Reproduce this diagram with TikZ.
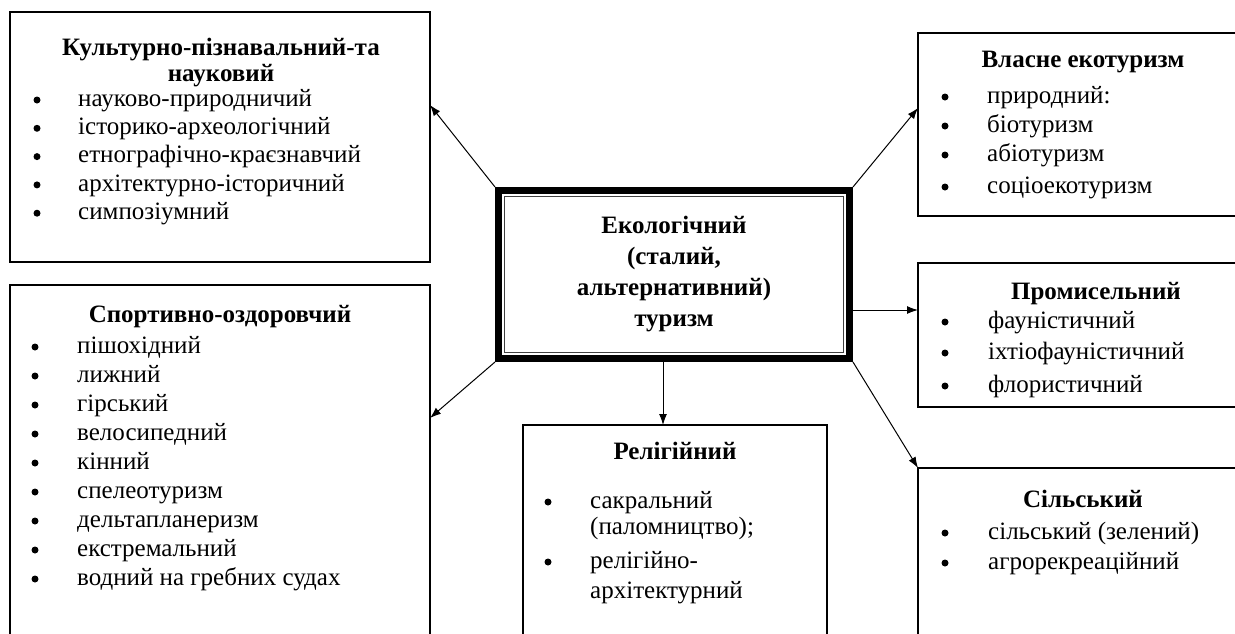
\documentclass[tikz,border=0pt]{standalone}
\usepackage{fontspec}
\setmainfont{Liberation Serif}
\usetikzlibrary{arrows.meta,calc}
\begin{document}
\begin{tikzpicture}[x=1pt,y=-1pt,
  box/.style={draw,line width=1.2pt,anchor=north west,inner sep=0pt,outer sep=0pt},
  ttl/.style={font=\fontsize{25}{29}\selectfont\bfseries,anchor=mid,inner sep=0pt,yshift=-5pt},
  itm/.style={font=\fontsize{25}{29}\selectfont,anchor=mid west,inner sep=0pt,yshift=-4pt},
  bul/.style={circle,fill,draw=none,minimum size=7pt,inner sep=0pt},
  arr/.style={line width=1pt,-{Latex[length=11pt,width=8pt]}}]
\useasboundingbox (0,0) rectangle (1235,633);
\clip (0,0) rectangle (1235,633);
% boxes
\node[box,minimum width=420,minimum height=250] (b1) at (10,12) {};
\node[box,minimum width=420,minimum height=380] (b2) at (10,285) {};
\node[box,minimum width=304,minimum height=240] (r) at (523,425) {};
\node[box,minimum width=345,minimum height=183] (v) at (918,33) {};
\node[box,minimum width=345,minimum height=144] (p) at (918,263) {};
\node[box,minimum width=345,minimum height=200] (s) at (918,468) {};
% centre
\node[draw,line width=7pt,minimum width=351,minimum height=168,inner sep=0pt,
      font=\fontsize{25}{31}\selectfont\bfseries,align=center] (c) at (674,274.5)
      {Екологічний\\(сталий,\\альтернативний)\\туризм};
\draw[line width=1.5pt,black!75] ([shift={(9.5,9.5)}]c.north west) rectangle ([shift={(-9.5,-9.5)}]c.south east);
% box 1
\node[ttl] (b1t1) at (221,48) {Культурно-пізнавальний-та};
\node[ttl] (b1t2) at (221,74) {науковий};
\foreach \t [count=\i] in {науково-природничий,історико-археологічний,етнографічно-краєзнавчий,архітектурно-історичний,симпозіумний}{
  \node[bul] (b1b\i) at (37,{100+28.3*(\i-1)}) {};
  \node[itm] (b1i\i) at (78,{100+28.3*(\i-1)}) {\t};
}
% box 2
\node[ttl] (b2t) at (220,315) {Спортивно-оздоровчий};
\foreach \t [count=\i] in {пішохідний,лижний,гірський,велосипедний,кінний,спелеотуризм,дельтапланеризм,екстремальний,водний на гребних судах}{
  \node[bul] (b2b\i) at (35,{347+29*(\i-1)}) {};
  \node[itm] (b2i\i) at (77,{347+29*(\i-1)}) {\t};
}
% Власне
\node[ttl] (vt) at (1083,60) {Власне екотуризм};
\foreach \t/\y [count=\i] in {природний:/97,біотуризм/126,абіотуризм/155,соціоекотуризм/187}{
  \node[bul] (vb\i) at (945,\y) {};
  \node[itm] (vi\i) at (987,\y) {\t};
}
% Промисельний
\node[ttl] (pt) at (1096,292) {Промисельний};
\foreach \t/\y [count=\i] in {фауністичний/322,іхтіофауністичний/353,флористичний/386}{
  \node[bul] (pb\i) at (945,\y) {};
  \node[itm] (pi\i) at (988,\y) {\t};
}
% Сільський
\node[ttl] (st) at (1083,500) {Сільський};
\foreach \t/\y [count=\i] in {сільський (зелений)/533,агрорекреаційний/563}{
  \node[bul] (sb\i) at (945,\y) {};
  \node[itm] (si\i) at (988,\y) {\t};
}
% Релігійний
\node[ttl] (rt) at (675,452) {Релігійний};
\node[bul] (rb1) at (548,502) {};
\node[itm] (ri1) at (590,502) {сакральний};
\node[itm] (ri1b) at (590,528) {(паломництво);};
\node[bul] (rb2) at (548,562) {};
\node[itm] (ri2) at (590,562) {релігійно-};
\node[itm] (ri2b) at (590,592) {архітектурний};
% connectors
\draw[arr] (c.north west) -- ([yshift=-93pt]b1.north east);
\draw[arr] (c.south west) -- ([yshift=-133pt]b2.north east);
\draw[arr] (c.north east) -- ([yshift=-75pt]v.north west);
\coordinate (pe) at ([yshift=-47pt]p.north west);
\draw[arr] (c.east |- pe) -- (pe);
\draw[arr] (c.south east) -- (s.north west);
\coordinate (re) at ([xshift=140pt]r.north west);
\draw[arr] (c.south -| re) -- (re);
\end{tikzpicture}
\end{document}
